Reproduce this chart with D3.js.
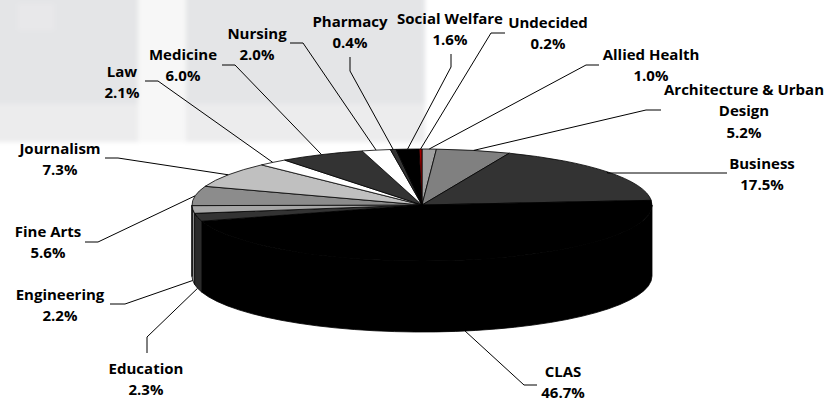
<!DOCTYPE html>
<html>
<head>
<meta charset="utf-8">
<script src="https://cdn.jsdelivr.net/npm/d3@7/dist/d3.min.js"></script>
<style>
  body { margin: 0; background: #fff; }
  svg { display: block; }
  .label { font-family: "Open Sans", sans-serif; font-weight: 700; font-size: 15px; fill: #000; }
  .leader { fill: none; stroke: #000; stroke-width: 1; }
</style>
</head>
<body>
<svg id="chart" width="834" height="404"></svg>
<script>
// college share of enrolled students, in percent (clockwise from 12 o'clock)
var colleges = ["Allied Health", "Architecture & Urban Design", "Business", "CLAS", "Education",
  "Engineering", "Fine Arts", "Journalism", "Law", "Medicine", "Nursing", "Pharmacy",
  "Social Welfare", "Undecided"];
var shares = [1.0, 5.2, 17.5, 46.7, 2.3, 2.2, 5.6, 7.3, 2.1, 6.0, 2.0, 0.4, 1.6, 0.2];
var fills = ["#a0a0a0", "#808080", "#333333", "#000000", "#333333", "#a6a6a6", "#8c8c8c",
  "#c0c0c0", "#ffffff", "#333333", "#ffffff", "#333333", "#000000", "#a00000"];

// label placement: first text line centre, elbow of the leader, end of the leader
var labelLayout = {
  "Allied Health":               {x: 651, y: 54,  elbow: [586, 65],  end: [599, 65]},
  "Architecture & Urban Design": {x: 744, y: 89,  elbow: [646, 110], end: [661, 110]},
  "Business":                    {x: 762, y: 163, elbow: null,       end: [727, 173]},
  "CLAS":                        {x: 563, y: 371, elbow: [524, 385], end: [537, 385]},
  "Education":                   {x: 146, y: 368, elbow: [147, 337], end: [147, 353]},
  "Engineering":                 {x: 60,  y: 294, elbow: [125, 304], end: [110, 304]},
  "Fine Arts":                   {x: 48,  y: 231, elbow: [98, 242],  end: [85, 242]},
  "Journalism":                  {x: 60,  y: 148, elbow: [118, 158], end: [105, 158]},
  "Law":                         {x: 122, y: 71,  elbow: [158, 81],  end: [145, 81]},
  "Medicine":                    {x: 183, y: 54,  elbow: [235, 65],  end: [222, 65]},
  "Nursing":                     {x: 257, y: 33,  elbow: [303, 43],  end: [290, 43]},
  "Pharmacy":                    {x: 350, y: 21,  elbow: [350, 71],  end: [350, 57]},
  "Social Welfare":              {x: 450, y: 18,  elbow: [451, 67],  end: [451, 54]},
  "Undecided":                   {x: 548, y: 22,  elbow: [491, 33],  end: [505, 33]}
};

var W = 834, H = 404;
var cx = 422, cy = 205, rx = 230, ry = 56, depth = 71;
var lineGap = 21.5;

var svg = d3.select("#chart");

//------------------------------------------------------------
// faded backdrop picture in the upper left

var bg = svg.append("g").attr("filter", "url(#soft)");
svg.append("defs").append("filter").attr("id", "soft")
  .append("feGaussianBlur").attr("stdDeviation", 2);
bg.append("rect").attr("x", -5).attr("y", -5).attr("width", 430).attr("height", 147).attr("fill", "#e4e5e7");
bg.append("rect").attr("x", -5).attr("y", 104).attr("width", 430).attr("height", 38).attr("fill", "#ececed");
bg.append("rect").attr("x", 138).attr("y", -5).attr("width", 48).attr("height", 147).attr("fill", "#f7f7f7");
bg.append("rect").attr("x", 18).attr("y", 4).attr("width", 36).attr("height", 26).attr("fill", "#e8e8ea");

//------------------------------------------------------------
// pie geometry

var data = colleges.map(function (c, i) {
    return {name: c, value: shares[i], color: fills[i]};
});

var pie = d3.pie().sort(null).value(function (d) { return d.value; });
var arcs = pie(data);

function pt(a, dy) {
    return [cx + rx * Math.sin(a), cy + (dy || 0) - ry * Math.cos(a)];
}

// outer walls, only the front half is visible
var walls = svg.append("g");
arcs.forEach(function (d) {
    var s = Math.max(d.startAngle, Math.PI / 2),
        e = Math.min(d.endAngle, Math.PI * 1.5);
    if (e <= s) return;
    var p0 = pt(s), p1 = pt(e), q1 = pt(e, depth), q0 = pt(s, depth);
    var path = "M" + p0 + "A" + rx + "," + ry + " 0 0 1 " + p1 +
        "L" + q1 + "A" + rx + "," + ry + " 0 0 0 " + q0 + "Z";
    walls.append("path")
      .attr("d", path)
      .attr("fill", d3.color(d.data.color).darker(0.5))
      .attr("stroke", "#000")
      .attr("stroke-width", 0.8)
      .attr("stroke-linejoin", "round");
});

// top faces
var arc = d3.arc().innerRadius(0).outerRadius(rx);
svg.append("g")
  .attr("transform", "translate(" + cx + "," + cy + ") scale(1," + (ry / rx) + ")")
  .selectAll("path")
  .data(arcs)
  .join("path")
    .attr("d", arc)
    .attr("fill", function (d) { return d.data.color; })
    .attr("stroke", "#000")
    .attr("stroke-width", 0.8)
    .attr("stroke-linejoin", "round")
    .attr("vector-effect", "non-scaling-stroke");

//------------------------------------------------------------
// leader lines and labels

var fmt = d3.format(".1f");
var lab = svg.append("g");

arcs.forEach(function (d) {
    var L = labelLayout[d.data.name];
    var mid = (d.startAngle + d.endAngle) / 2;
    var front = mid > Math.PI / 2 && mid < Math.PI * 1.5;
    var start = pt(mid, front ? depth : 0);
    var pts = [start];
    if (L.elbow) pts.push(L.elbow);
    else pts.push([start[0], L.end[1]]);
    pts.push(L.end);
    lab.append("path").attr("class", "leader").attr("d", d3.line()(pts));

    var t = lab.append("text").attr("class", "label").attr("text-anchor", "middle");
    var lines = [d.data.name];
    // wrap the long college name the same way as the original
    if (d.data.name.length > 20) {
        var k = d.data.name.lastIndexOf(" ");
        lines = [d.data.name.slice(0, k), d.data.name.slice(k + 1)];
    }
    lines.push(fmt(d.data.value) + "%");
    lines.forEach(function (s, i) {
        t.append("tspan").attr("x", L.x).attr("y", L.y + 5.5 + i * lineGap).text(s);
    });
});
</script>
</body>
</html>
